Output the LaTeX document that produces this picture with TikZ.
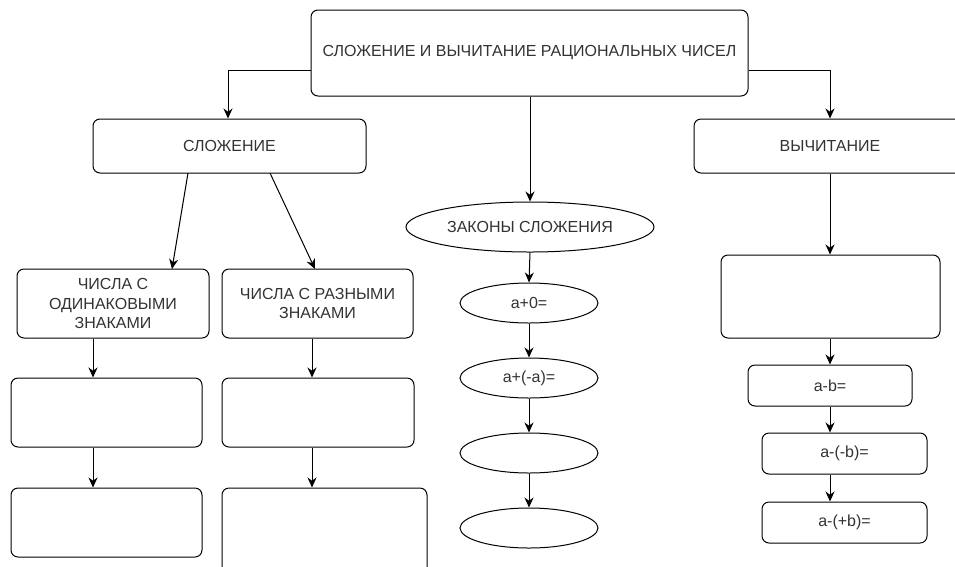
\documentclass[tikz,border=0pt]{standalone}
\usepackage{fontspec}
\setmainfont{Liberation Sans}
\usetikzlibrary{shapes.geometric,arrows.meta}
\definecolor{txt}{RGB}{51,51,51}
\begin{document}
\begin{tikzpicture}[x=1pt,y=-1pt,
  box/.style={draw, line width=1pt, rounded corners=7pt, inner sep=0pt, text=txt, font=\fontsize{16}{19.5}\selectfont, align=center},
  oval/.style={draw, line width=1pt, ellipse, inner sep=0pt, text=txt, font=\fontsize{16}{19.5}\selectfont},
  arr/.style={line width=1pt, -{Stealth[length=10pt,width=9pt]}}]
\useasboundingbox (0,0) rectangle (955,566);
\clip (0,0) rectangle (955,566);
\fill[white] (0,0) rectangle (955,566);
% top
\node[box, minimum width=437pt, minimum height=86pt] (top) at (529.5,53) {СЛОЖЕНИЕ И ВЫЧИТАНИЕ РАЦИОНАЛЬНЫХ ЧИСЕЛ};
% left branch
\node[box, minimum width=273pt, minimum height=54pt] (add) at (229.5,146) {СЛОЖЕНИЕ};
\node[box, minimum width=192pt, minimum height=69pt] (same) at (113,303.5) {ЧИСЛА С\\ОДИНАКОВЫМИ\\ЗНАКАМИ};
\node[box, minimum width=191pt, minimum height=69pt] (diff) at (317.5,303.5) {ЧИСЛА С РАЗНЫМИ\\ЗНАКАМИ};
\node[box, minimum width=191pt, minimum height=69pt] (s2) at (106.5,412.5) {};
\node[box, minimum width=192pt, minimum height=69pt] (d2) at (318,412.5) {};
\node[box, minimum width=191pt, minimum height=69pt] (s3) at (106.5,522.5) {};
\node[box, minimum width=205pt, minimum height=100pt] (d3) at (324.5,538) {};
% middle
\node[oval, minimum width=248pt, minimum height=50pt] (laws) at (530,227) {ЗАКОНЫ СЛОЖЕНИЯ};
\node[oval, minimum width=138pt, minimum height=40pt] (e1) at (529,303) {a+0=};
\node[oval, minimum width=138pt, minimum height=40pt] (e2) at (529,378) {a+(-a)=};
\node[oval, minimum width=138pt, minimum height=40pt] (e3) at (529,453) {};
\node[oval, minimum width=138pt, minimum height=40pt] (e4) at (529,528) {};
% right branch
\node[box, minimum width=272pt, minimum height=54pt] (sub) at (830,146) {ВЫЧИТАНИЕ};
\node[box, minimum width=219pt, minimum height=83pt] (big) at (830.5,296.5) {};
\node[box, minimum width=164pt, minimum height=41pt] (r1) at (830,385.5) {a-b=};
\node[box, minimum width=165pt, minimum height=41pt] (r2) at (844.5,453.5) {a-(-b)=};
\node[box, minimum width=165pt, minimum height=41pt] (r3) at (844.5,522.5) {a-(+b)=};
% connectors
\coordinate (tl) at (228,70);
\coordinate (tr) at (830,70);
\draw[arr] (top.west |- tl) -| (add.north -| tl);
\draw[arr] (top.east |- tr) -| (sub.north -| tr);
\draw[arr] (top.south -| laws) -- (laws.north);
\draw[arr] (188,173) -- (172,269);
\draw[arr] (270,173) -- (315,269);
\draw[arr] (same.south -| 93,0) -- (s2.north -| 93,0);
\draw[arr] (s2.south -| 93,0) -- (s3.north -| 93,0);
\draw[arr] (diff.south -| 312,0) -- (d2.north -| 312,0);
\draw[arr] (d2.south -| 312,0) -- (d3.north -| 312,0);
\draw[arr] (laws.south) -- (e1.north);
\draw[arr] (e1.south) -- (e2.north);
\draw[arr] (e2.south) -- (e3.north);
\draw[arr] (e3.south) -- (e4.north);
\draw[arr] (sub.south) -- (big.north -| sub);
\draw[arr] (big.south -| r1) -- (r1.north);
\draw[arr] (r1.south) -- (r2.north -| r1);
\draw[arr] (r2.south -| r1) -- (r3.north -| r1);
\end{tikzpicture}
\end{document}
